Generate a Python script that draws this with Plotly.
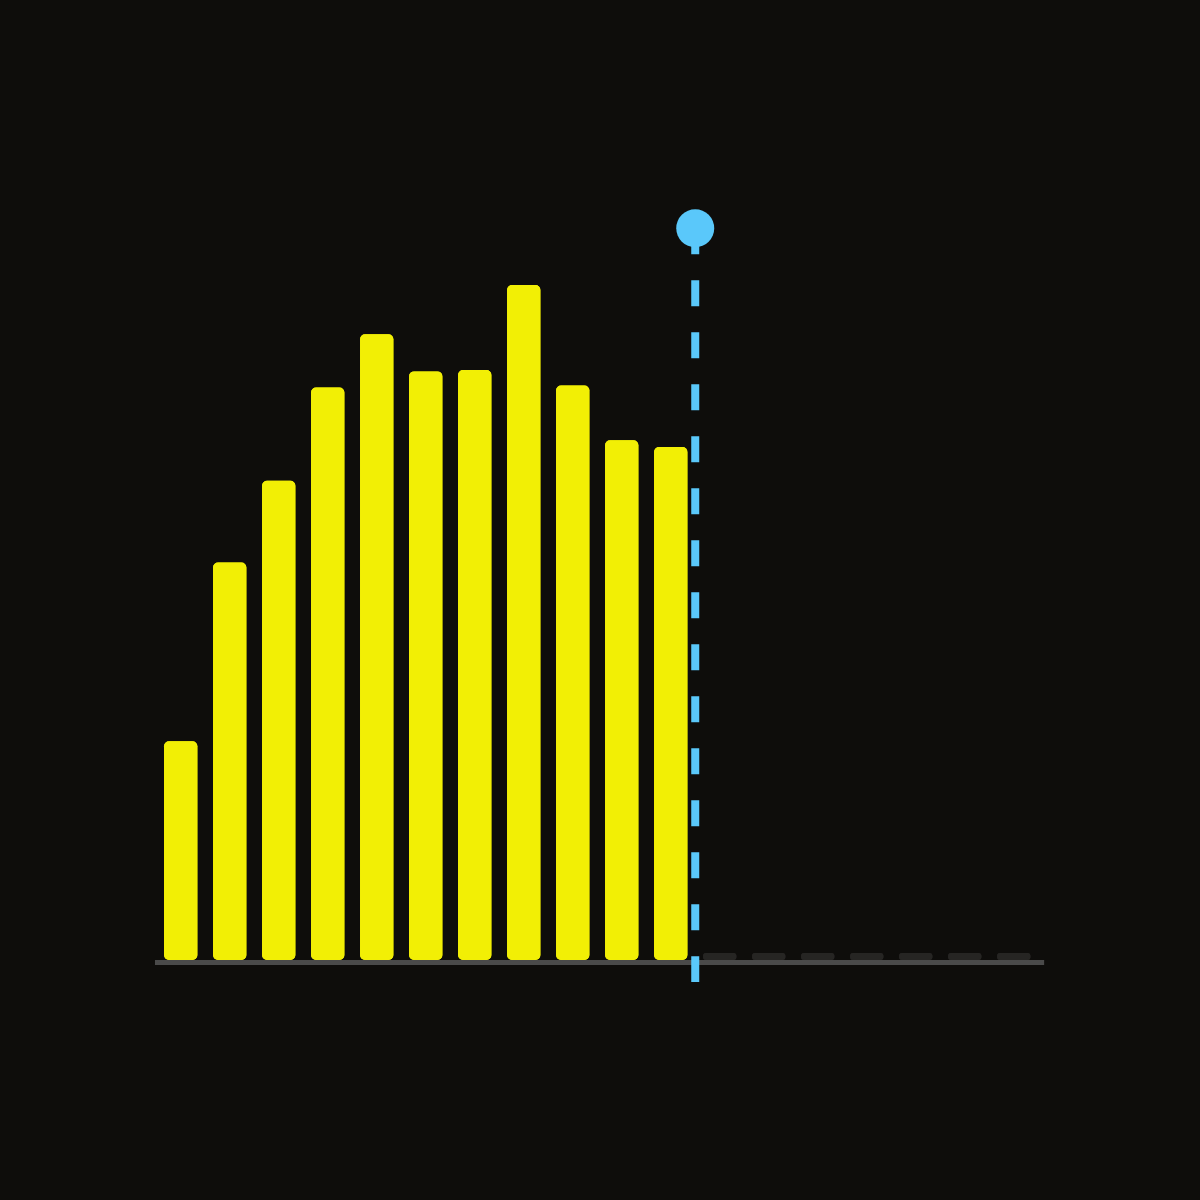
import plotly.graph_objects as go

# 18 periods, the first 11 have results, the rest are still empty
periods = list(range(1, 19))
actual = [32.4, 58.9, 71.0, 84.8, 92.7, 87.2, 87.4, 100.0, 85.1, 77.0, 76.0]
pending = [1.04] * 7
now_pos = 10.5      # between period 11 and 12
now_top = 108.4
now_bottom = -3.26

bg = "#0e0d0b"
yellow = "#f2ef05"
grey_bar = "#262523"
blue = "#5ac8fa"

x_all = [p - 1 for p in periods]
x_actual = x_all[:len(actual)]
x_pending = x_all[len(actual):]

fig = go.Figure()

# each bar is drawn twice (up from 0 and down from the top) so both ends get rounded
for xs, vals, col in [(x_actual, actual, yellow), (x_pending, pending, grey_bar)]:
    fig.add_trace(go.Bar(x=xs, y=vals, base=[0] * len(vals), marker=dict(color=col, line=dict(width=0)),
                         width=0.68, opacity=1, hoverinfo="skip", showlegend=False))
    fig.add_trace(go.Bar(x=xs, y=[-v for v in vals], base=vals, marker=dict(color=col, line=dict(width=0)),
                         width=0.68, opacity=1, hoverinfo="skip", showlegend=False))

# "now" marker
fig.add_trace(go.Scatter(x=[now_pos, now_pos], y=[now_top, now_bottom], mode="lines",
                         line=dict(color=blue, width=8, dash="26px,26px"),
                         hoverinfo="skip", showlegend=False))
fig.add_trace(go.Scatter(x=[now_pos], y=[now_top], mode="markers",
                         marker=dict(color=blue, size=38, line=dict(width=0)),
                         hoverinfo="skip", showlegend=False))

# baseline
fig.add_shape(type="line", xref="x", yref="y", x0=-0.525, x1=17.62,
              ysizemode="pixel", yanchor=0, y0=-2.5, y1=-2.5,
              line=dict(color="#4a4a4a", width=5), layer="below")

fig.update_layout(
    width=1200, height=1200,
    paper_bgcolor=bg, plot_bgcolor=bg,
    margin=dict(l=100, r=100, t=100, b=200),
    barmode="overlay", barcornerradius=5,
    xaxis=dict(range=[-1.647, 18.76], visible=False, fixedrange=True),
    yaxis=dict(range=[-5.926, 127.41], visible=False, fixedrange=True),
)

# no white page margin round the figure
fig.write_html("out.html", config={"displayModeBar": False},
               post_script="document.body.style.margin='0';document.body.style.background='%s';" % bg)
